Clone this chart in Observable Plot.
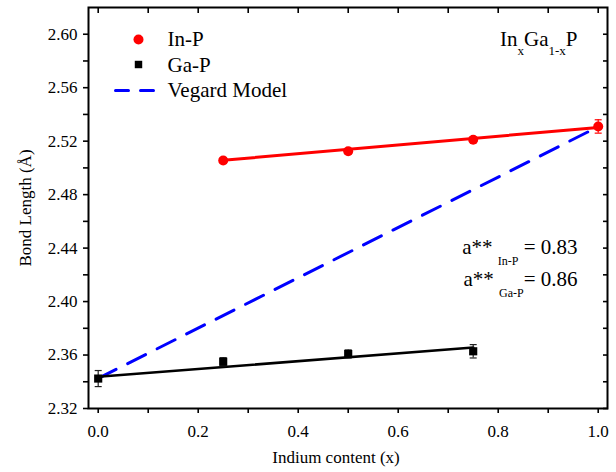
<!DOCTYPE html>
<html>
<head>
<meta charset="utf-8">
<script src="https://cdn.jsdelivr.net/npm/d3@7"></script>
<script src="https://cdn.jsdelivr.net/npm/@observablehq/plot@0.6"></script>
<style>
  html, body { margin: 0; padding: 0; background: white; }
  svg text { font-family: 'Liberation Serif', 'Times New Roman', serif; }
</style>
</head>
<body>
<div id="chart"></div>
<script>
// ---- data ----
const inpX = [0.25, 0.5, 0.75, 1.0];
const inpY = [2.5056, 2.5125, 2.5211, 2.5310];
const inpErr = [0.002, 0.0018, 0.002, 0.005];

const gapX = [0.0, 0.25, 0.5, 0.75];
const gapY = [2.3424, 2.3550, 2.3608, 2.3628];
const gapErr = [0.006, 0.003, 0.003, 0.005];

const inpFitX = [0.25, 1.0];
const inpFitY = [2.5057, 2.5303];
const gapFitX = [0.0, 0.75];
const gapFitY = [2.3437, 2.3656];
const vegardX = [0.0, 1.0];
const vegardY = [2.3425, 2.5308];

const xMajor = [0, 0.2, 0.4, 0.6, 0.8, 1.0];
const xMinor = [0.1, 0.3, 0.5, 0.7, 0.9];
const yMajor = [2.32, 2.36, 2.40, 2.44, 2.48, 2.52, 2.56, 2.60];
const yMinor = [2.34, 2.38, 2.42, 2.46, 2.50, 2.54, 2.58];

const legendLabels = ["In-P", "Ga-P", "Vegard Model"];
const xLabel = "Indium content (x)";
const yLabel = "Bond Length (Å)";
const formulaParts = [["In", 0], ["x", 1], ["Ga", 0], ["1-x", 1], ["P", 0]];
const coefInP = [["a**\u00a0", 0], ["In-P", 1], ["\u00a0= 0.83", 0]];
const coefGaP = [["a**\u00a0", 0], ["Ga-P", 1], ["= 0.86", 0]];

// ---- tables ----
const inp = inpX.map((x, i) => ({x, y: inpY[i], e: inpErr[i]}));
const gap = gapX.map((x, i) => ({x, y: gapY[i], e: gapErr[i]}));
const toPts = (xs, ys) => xs.map((x, i) => ({x, y: ys[i]}));
const capW = 0.007;
const joinParts = p => p.map(d => d[0]).join("");

const noLabel = () => "";
const chart = Plot.plot({
  width: 616,
  height: 472,
  marginLeft: 88,
  marginRight: 9,
  marginTop: 7,
  marginBottom: 64,
  style: {fontFamily: "'Liberation Serif', 'Times New Roman', serif", fontSize: "17px", background: "white", color: "black"},
  x: {domain: [-0.0194, 1.0186]},
  y: {domain: [2.32, 2.62]},
  marks: [
    // axes
    Plot.axisX(xMajor, {anchor: "bottom", tickSize: 5, tickPadding: 11, tickFormat: d3.format(".1f"), fontSize: 17, label: null, strokeWidth: 1.6}),
    Plot.axisX(xMinor, {anchor: "bottom", tickSize: 5, tickFormat: noLabel, label: null, strokeWidth: 1.6}),
    Plot.axisX([...xMajor, ...xMinor], {anchor: "top", tickSize: -5, tickFormat: noLabel, label: null, strokeWidth: 1.6}),
    Plot.axisY(yMajor, {anchor: "left", tickSize: 5, tickPadding: 6, tickFormat: d3.format(".2f"), fontSize: 17, label: null, strokeWidth: 1.6}),
    Plot.axisY(yMinor, {anchor: "left", tickSize: 5, tickFormat: noLabel, label: null, strokeWidth: 1.6}),
    Plot.axisY([...yMajor, ...yMinor], {anchor: "right", tickSize: -5, tickFormat: noLabel, label: null, strokeWidth: 1.6}),
    Plot.frame({stroke: "black", strokeWidth: 2}),
    // axis labels
    Plot.text([xLabel], {frameAnchor: "bottom", dx: -12, dy: 49, text: d => d, fontSize: 17, lineAnchor: "middle", textAnchor: "middle"}),
    Plot.text([yLabel], {frameAnchor: "left", dx: -63, rotate: -90, text: d => d, fontSize: 17, lineAnchor: "middle", textAnchor: "middle"}),
    // fit lines
    Plot.line(toPts(vegardX, vegardY), {x: "x", y: "y", stroke: "#0000ff", strokeWidth: 3, strokeDasharray: "20,13"}),
    Plot.line(toPts(inpFitX, inpFitY), {x: "x", y: "y", stroke: "#ff0000", strokeWidth: 3}),
    Plot.line(toPts(gapFitX, gapFitY), {x: "x", y: "y", stroke: "black", strokeWidth: 2.6}),
    // error bars
    Plot.ruleX(inp, {x: "x", y1: d => d.y - d.e, y2: d => d.y + d.e, stroke: "#ff0000", strokeWidth: 1.2}),
    Plot.link(inp, {x1: d => d.x - capW, x2: d => d.x + capW, y1: d => d.y - d.e, y2: d => d.y - d.e, stroke: "#ff0000", strokeWidth: 1.2}),
    Plot.link(inp, {x1: d => d.x - capW, x2: d => d.x + capW, y1: d => d.y + d.e, y2: d => d.y + d.e, stroke: "#ff0000", strokeWidth: 1.2}),
    Plot.ruleX(gap, {x: "x", y1: d => d.y - d.e, y2: d => d.y + d.e, stroke: "#222", strokeWidth: 1.2}),
    Plot.link(gap, {x1: d => d.x - capW, x2: d => d.x + capW, y1: d => d.y - d.e, y2: d => d.y - d.e, stroke: "#222", strokeWidth: 1.2}),
    Plot.link(gap, {x1: d => d.x - capW, x2: d => d.x + capW, y1: d => d.y + d.e, y2: d => d.y + d.e, stroke: "#222", strokeWidth: 1.2}),
    // markers
    Plot.dot(inp, {x: "x", y: "y", r: 5, fill: "#ff0000", stroke: "none"}),
    Plot.dot(gap, {x: "x", y: "y", r: 4.6, symbol: "square", fill: "black", stroke: "none"}),
    // legend
    Plot.dot([legendLabels[0]], {frameAnchor: "top-left", dx: 50, dy: 32, r: 5, fill: "#ff0000"}),
    Plot.dot([legendLabels[1]], {frameAnchor: "top-left", dx: 50, dy: 57, r: 4.2, symbol: "square", fill: "black"}),
    Plot.vector([legendLabels[2]], {frameAnchor: "top-left", dx: 27, dy: 83, length: 38, rotate: 90, anchor: "start",
      shape: {draw(ctx, l) { ctx.moveTo(0, 0); ctx.lineTo(0, -l); }},
      stroke: "#0000ff", strokeWidth: 3, strokeDasharray: "13,12"}),
    Plot.text([legendLabels[0]], {frameAnchor: "top-left", dx: 79, dy: 32, text: d => d, textAnchor: "start", lineAnchor: "middle", fontSize: 21}),
    Plot.text([legendLabels[1]], {frameAnchor: "top-left", dx: 79, dy: 58, text: d => d, textAnchor: "start", lineAnchor: "middle", fontSize: 21}),
    Plot.text([legendLabels[2]], {frameAnchor: "top-left", dx: 79, dy: 83, text: d => d, textAnchor: "start", lineAnchor: "middle", fontSize: 21}),
    // annotations
    Plot.text([joinParts(formulaParts)], {frameAnchor: "top-right", dx: -30, dy: 32, text: d => d, textAnchor: "end", lineAnchor: "middle", fontSize: 21}),
    Plot.text([joinParts(coefInP)], {frameAnchor: "top-right", dx: -30, dy: 240, text: d => d, textAnchor: "end", lineAnchor: "middle", fontSize: 21}),
    Plot.text([joinParts(coefGaP)], {frameAnchor: "top-right", dx: -30, dy: 272, text: d => d, textAnchor: "end", lineAnchor: "middle", fontSize: 21})
  ]
});

// rich text with subscripts
function subify(parts, subSize, subShift) {
  const full = joinParts(parts);
  d3.select(chart).selectAll("text").filter(function () { return this.textContent === full; }).each(function () {
    const sel = d3.select(this);
    sel.text(null);
    let down = false;
    parts.forEach(([s, sub]) => {
      const ts = sel.append("tspan").text(s);
      if (sub && !down) { ts.attr("dy", subShift).attr("font-size", subSize); down = true; }
      else if (sub) { ts.attr("font-size", subSize); }
      else if (!sub && down) { ts.attr("dy", -subShift); down = false; }
    });
  });
}
subify(formulaParts, 13, 9);
subify(coefInP, 12, 11);
subify(coefGaP, 12, 11);

document.getElementById("chart").appendChild(chart);
</script>
</body>
</html>
